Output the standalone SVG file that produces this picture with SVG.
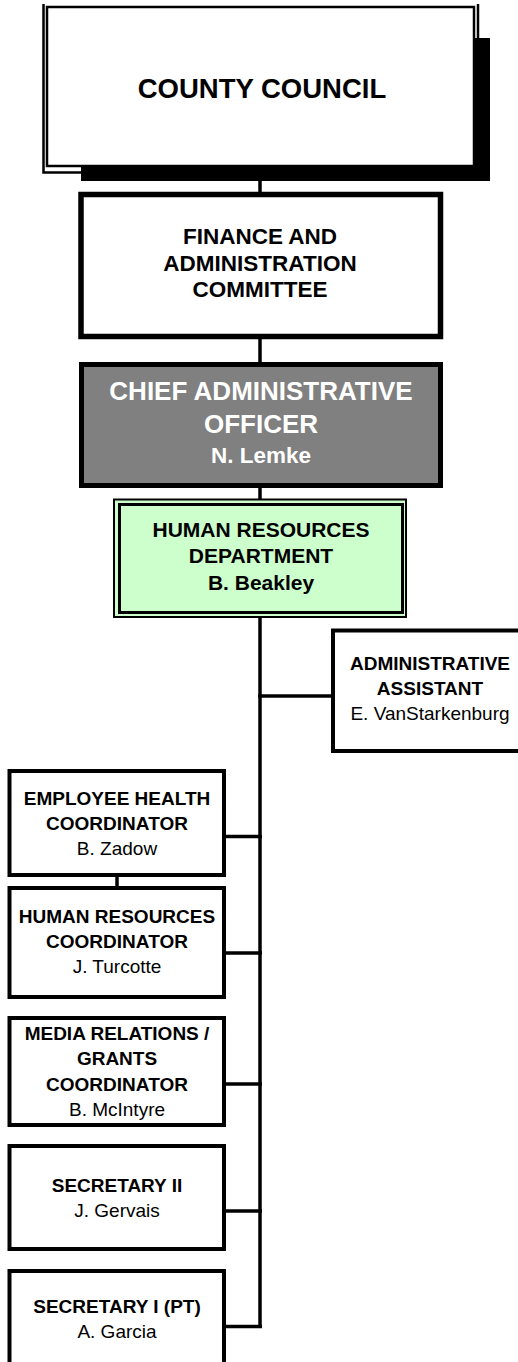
<svg xmlns="http://www.w3.org/2000/svg" width="518" height="1362" viewBox="0 0 518 1362">
<style>
text{font-family:"Liberation Sans",Arial,sans-serif;text-anchor:middle;fill:#000}
.b{font-weight:bold}
.box{fill:#fff;stroke:#000;stroke-width:4}
.conn{stroke:#000;stroke-width:3.5;fill:none}
</style>
<rect width="518" height="1362" fill="#fff"/>
<g id="connectors">
<line class="conn" x1="260" y1="180" x2="260" y2="195"/>
<line class="conn" x1="260" y1="338" x2="260" y2="364"/>
<line class="conn" x1="260" y1="486" x2="260" y2="500"/>
<line class="conn" x1="260" y1="617" x2="260" y2="1328"/>
<line class="conn" x1="258" y1="696" x2="334" y2="696"/>
<line class="conn" x1="224" y1="836.5" x2="262" y2="836.5"/>
<line class="conn" x1="224" y1="953" x2="262" y2="953"/>
<line class="conn" x1="224" y1="1084" x2="262" y2="1084"/>
<line class="conn" x1="224" y1="1211" x2="262" y2="1211"/>
<line class="conn" x1="224" y1="1326.5" x2="262" y2="1326.5"/>
<line class="conn" x1="117" y1="875" x2="117" y2="889"/>
</g>
<g id="county-council">
<path d="M81 167H473V38H490V181H81Z" fill="#000"/>
<rect x="47" y="7" width="427" height="159" fill="#fff" stroke="#000" stroke-width="2.5"/>
<path d="M43.5 4V172.5H81M478 4V38" fill="none" stroke="#000" stroke-width="2.5"/>
<text class="b" x="262" y="98" font-size="27.5">COUNTY COUNCIL</text>
</g>
<g id="finance">
<rect x="81" y="194.5" width="359.5" height="142" fill="#fff" stroke="#000" stroke-width="5.5"/>
<text class="b" font-size="22.5" x="260"><tspan x="260" y="244">FINANCE AND</tspan><tspan x="260" y="270.5">ADMINISTRATION</tspan><tspan x="260" y="297">COMMITTEE</tspan></text>
</g>
<g id="cao">
<rect x="81.5" y="364.5" width="359" height="121" fill="#808080" stroke="#000" stroke-width="5"/>
<text class="b" font-size="26" x="261" style="fill:#fff"><tspan x="261" y="400">CHIEF ADMINISTRATIVE</tspan><tspan x="261" y="433">OFFICER</tspan></text>
<text class="b" font-size="22.5" x="261" y="463" style="fill:#fff">N. Lemke</text>
</g>
<g id="hr-department">
<rect x="114" y="499.5" width="292" height="117.5" fill="#ccffcc" stroke="#000" stroke-width="2"/>
<rect x="119.5" y="504.5" width="283" height="108" fill="#ccffcc" stroke="#000" stroke-width="3"/>
<text class="b" font-size="21" x="261"><tspan x="261" y="537">HUMAN RESOURCES</tspan><tspan x="261" y="563">DEPARTMENT</tspan><tspan x="261" y="590">B. Beakley</tspan></text>
</g>
<g id="admin-assistant">
<rect class="box" x="333" y="630.5" width="200" height="120.5"/>
<text class="b" font-size="19" x="430"><tspan x="430" y="670">ADMINISTRATIVE</tspan><tspan x="430" y="695">ASSISTANT</tspan></text>
<text font-size="19" x="430" y="720">E. VanStarkenburg</text>
</g>
<g id="employee-health">
<rect class="box" x="9.5" y="771" width="214.5" height="104"/>
<text class="b" font-size="19" x="117"><tspan x="117" y="805">EMPLOYEE HEALTH</tspan><tspan x="117" y="830">COORDINATOR</tspan></text>
<text font-size="19" x="117" y="855">B. Zadow</text>
</g>
<g id="hr-coordinator">
<rect class="box" x="9.5" y="888" width="214.5" height="109"/>
<text class="b" font-size="19" x="117"><tspan x="117" y="923">HUMAN RESOURCES</tspan><tspan x="117" y="948">COORDINATOR</tspan></text>
<text font-size="19" x="117" y="973">J. Turcotte</text>
</g>
<g id="media-relations">
<rect class="box" x="9.5" y="1018" width="214.5" height="107"/>
<text class="b" font-size="19" x="117"><tspan x="117" y="1040">MEDIA RELATIONS /</tspan><tspan x="117" y="1065">GRANTS</tspan><tspan x="117" y="1091">COORDINATOR</tspan></text>
<text font-size="19" x="117" y="1116">B. McIntyre</text>
</g>
<g id="secretary-ii">
<rect class="box" x="9.5" y="1146" width="214.5" height="103"/>
<text class="b" font-size="19" x="117" y="1192">SECRETARY II</text>
<text font-size="19" x="117" y="1217">J. Gervais</text>
</g>
<g id="secretary-i">
<rect class="box" x="9.5" y="1271" width="214.5" height="120"/>
<text class="b" font-size="19" x="117" y="1313">SECRETARY I (PT)</text>
<text font-size="19" x="117" y="1338">A. Garcia</text>
</g>
</svg>
